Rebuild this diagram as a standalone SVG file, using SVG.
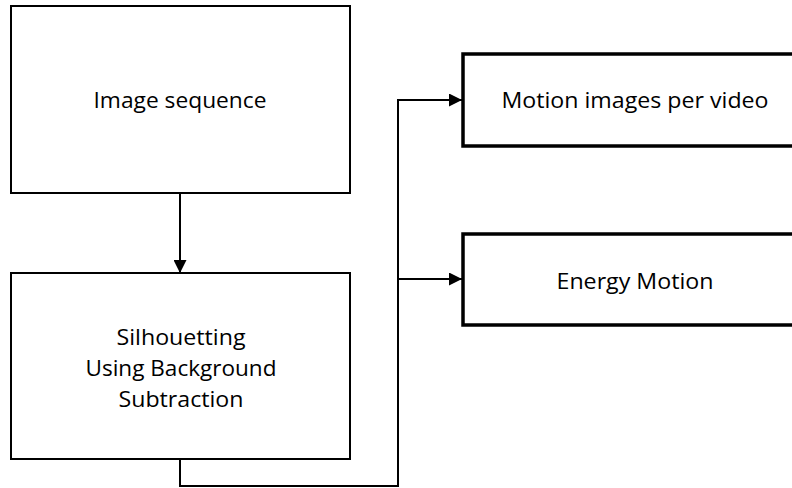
<svg xmlns="http://www.w3.org/2000/svg" width="792" height="488" viewBox="0 0 792 488">
  <style>
    .box { fill: #ffffff; stroke: #000000; stroke-width: 2; }
    .box-bold { fill: #ffffff; stroke: #000000; stroke-width: 3.5; }
    .label { font-family: "Open Sans", "Liberation Sans", sans-serif; font-size: 22px; fill: #000000; text-anchor: middle; }
    .wire { fill: none; stroke: #000000; stroke-width: 2; }
  </style>
  <defs>
    <marker id="arrow" viewBox="0 0 13 13" refX="13" refY="6.5" markerWidth="13" markerHeight="13" markerUnits="userSpaceOnUse" orient="auto">
      <path d="M0,0 L13,6.5 L0,13 Z" fill="#000000"/>
    </marker>
  </defs>

  <rect width="792" height="488" fill="#ffffff"/>

  <g id="connectors">
    <path class="wire" d="M180,193 V273" marker-end="url(#arrow)"/>
    <path class="wire" d="M180,459 V486 H398 V100 H462" marker-end="url(#arrow)"/>
    <path class="wire" d="M398,279 H462" marker-end="url(#arrow)"/>
  </g>

  <g id="image-sequence">
    <rect class="box" x="11" y="6" width="339" height="187"/>
    <text class="label" x="180" y="108" textLength="173" lengthAdjust="spacingAndGlyphs">Image sequence</text>
  </g>

  <g id="silhouetting">
    <rect class="box" x="11" y="273" width="339" height="186"/>
    <text class="label" x="181" y="345" textLength="129" lengthAdjust="spacingAndGlyphs">Silhouetting</text>
    <text class="label" x="181" y="376" textLength="191" lengthAdjust="spacingAndGlyphs">Using Background</text>
    <text class="label" x="181" y="407" textLength="125" lengthAdjust="spacingAndGlyphs">Subtraction</text>
  </g>

  <g id="motion-images">
    <rect class="box-bold" x="463" y="54" width="342" height="92"/>
    <text class="label" x="635" y="108" textLength="267" lengthAdjust="spacingAndGlyphs">Motion images per video</text>
  </g>

  <g id="energy-motion">
    <rect class="box-bold" x="463" y="234" width="342" height="91"/>
    <text class="label" x="635" y="289" textLength="157" lengthAdjust="spacingAndGlyphs">Energy Motion</text>
  </g>
</svg>
